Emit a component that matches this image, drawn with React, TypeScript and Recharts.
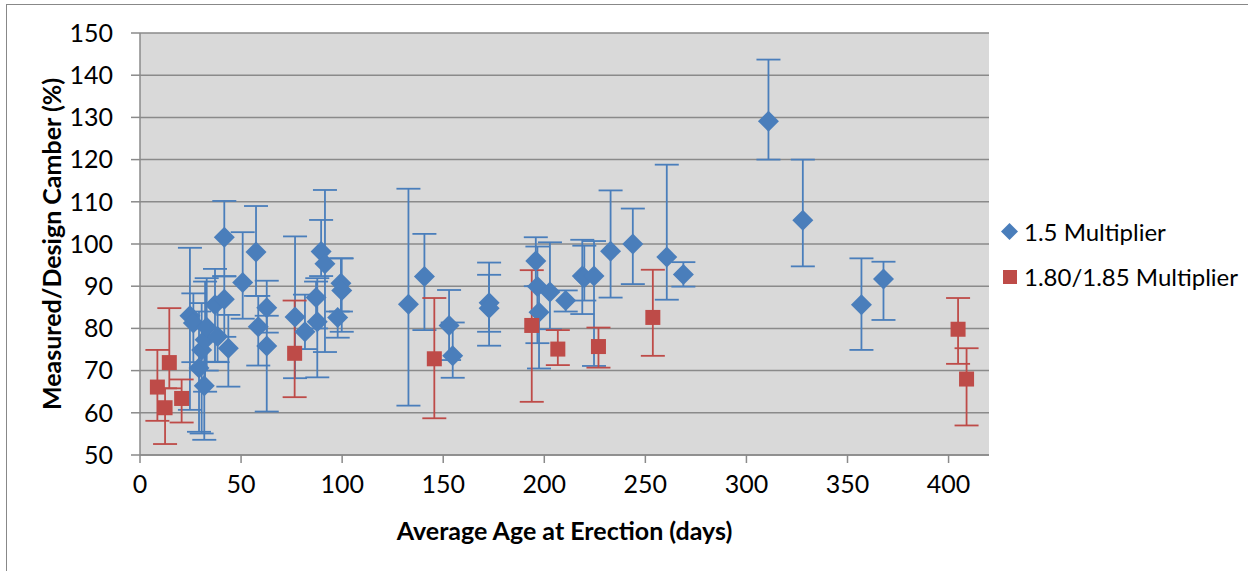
import React from 'react';
import {
  ScatterChart,
  Scatter,
  XAxis,
  YAxis,
  CartesianGrid,
  ErrorBar,
  Label,
} from 'recharts';

const BLUE = '#4a7ebb';
const RED = '#be4b48';
const GRID = '#8a8a8a';
const FONT = 'Lato, "Open Sans", sans-serif';

// 1.5 multiplier girders: age (days), camber ratio (%), error bar low / high
const blueAge = [
  24.7, 26.4, 29.2, 30.5, 31.8, 32.2, 33.0, 37.1, 38.4, 41.7, 41.7, 43.7, 50.8, 57.4, 58.5, 62.7,
  62.7, 76.7, 81.6, 87.1, 87.7, 89.6, 91.5, 99.4, 99.8, 97.8, 132.8, 140.7, 152.9, 154.7, 172.7,
  172.7, 195.8, 196.6, 197.4, 202.8, 210.6, 218.8, 219.8, 224.6, 232.8, 243.8, 260.6, 268.8,
  310.9, 327.9, 356.9, 367.8,
];
const blueCamber = [
  83.0, 81.3, 70.6, 74.9, 66.4, 77.3, 80.3, 85.6, 78.1, 101.6, 86.9, 75.3, 90.9, 98.1, 80.4, 84.9,
  75.8, 82.7, 79.2, 87.3, 81.6, 98.2, 95.3, 90.7, 89.0, 82.6, 85.7, 92.3, 80.7, 73.5, 86.1,
  84.8, 96.0, 89.9, 83.8, 88.6, 86.6, 92.4, 92.0, 92.4, 98.3, 100.0, 96.9, 92.8,
  129.1, 105.6, 85.6, 91.7,
];
const blueLow = [
  60.7, 72.0, 55.5, 55.1, 53.6, 65.0, 70.0, 72.1, 72.0, 92.3, 78.0, 66.2, 82.3, 87.7, 71.2, 79.0,
  60.3, 68.2, 75.1, 80.0, 68.4, 92.4, 74.4, 84.0, 79.2, 77.8, 61.7, 79.6, 72.5, 68.3, 79.2,
  75.9, 90.0, 76.5, 70.5, 79.8, 84.0, 83.4, 86.6, 71.1, 87.3, 90.5, 86.8, 89.9,
  120.0, 94.7, 74.9, 82.0,
];
const blueHigh = [
  99.1, 88.3, 84.0, 86.0, 80.0, 91.1, 91.9, 94.1, 86.0, 110.2, 92.4, 83.2, 102.8, 109.0, 87.7, 91.3,
  83.0, 101.8, 88.0, 91.1, 91.9, 105.7, 112.8, 96.6, 96.6, 84.0, 113.1, 102.4, 89.1, 81.4, 95.6,
  92.7, 101.6, 99.4, 90.0, 100.4, 89.0, 101.0, 99.6, 100.7, 112.7, 108.4, 118.8, 95.7,
  143.7, 120.0, 96.6, 95.8,
];

// 1.80/1.85 multiplier girders
const redAge = [8.6, 12.4, 14.5, 20.6, 76.5, 145.6, 193.8, 206.7, 226.8, 253.7, 404.7, 408.9];
const redCamber = [66.1, 61.2, 71.9, 63.4, 74.1, 72.8, 80.7, 75.1, 75.7, 82.6, 79.8, 68.0];
const redLow = [58.1, 52.6, 65.8, 57.7, 63.7, 58.7, 62.6, 71.3, 70.7, 73.5, 71.6, 57.0];
const redHigh = [74.9, 65.8, 84.8, 67.9, 86.6, 87.2, 93.8, 79.6, 80.2, 93.9, 87.2, 75.3];

const xTicks = [0, 50, 100, 150, 200, 250, 300, 350, 400];
const yTicks = [50, 60, 70, 80, 90, 100, 110, 120, 130, 140, 150];

const toRows = (age: number[], camber: number[], low: number[], high: number[]) =>
  age.map((x, i) => ({
    x,
    y: camber[i],
    err: [camber[i] - low[i], high[i] - camber[i]],
  }));

const blueData = toRows(blueAge, blueCamber, blueLow, blueHigh);
const redData = toRows(redAge, redCamber, redLow, redHigh);

const DiamondMark = (props: any) => {
  const { cx, cy } = props;
  const r = 10.5;
  return (
    <polygon
      points={`${cx},${cy - r} ${cx + r},${cy} ${cx},${cy + r} ${cx - r},${cy}`}
      fill={BLUE}
    />
  );
};

const SquareMark = (props: any) => {
  const { cx, cy } = props;
  const s = 15;
  return <rect x={cx - s / 2} y={cy - s / 2} width={s} height={s} fill={RED} />;
};

const YTitle = ({ viewBox }: any) => {
  const x = viewBox.x - 29;
  const y = viewBox.y + viewBox.height / 2;
  return (
    <text
      x={x}
      y={y}
      transform={`rotate(-90, ${x}, ${y})`}
      textAnchor="middle"
      dominantBaseline="central"
      fontFamily={FONT}
      fontWeight={700}
      fontSize={25}
      fill="#000"
    >
      Measured/Design Camber (%)
    </text>
  );
};

const XTitle = ({ viewBox }: any) => (
  <text
    x={viewBox.x + viewBox.width / 2}
    y={530}
    textAnchor="middle"
    dominantBaseline="central"
    fontFamily={FONT}
    fontWeight={700}
    fontSize={25}
    fill="#000"
  >
    Average Age at Erection (days)
  </text>
);

const tickStyle = { fill: '#000', fontSize: 25, fontFamily: FONT };

const legendRow = (top: number): React.CSSProperties => ({
  position: 'absolute',
  left: 1000,
  top,
  height: 30,
  display: 'flex',
  alignItems: 'center',
  whiteSpace: 'nowrap',
  fontSize: 24,
  color: '#000',
});

export default function App() {
  return (
    <div
      style={{
        position: 'absolute',
        left: 0,
        top: 0,
        width: 1248,
        height: 571,
        overflow: 'hidden',
        background: '#fff',
        fontFamily: FONT,
      }}
    >
      {/* chart area frame */}
      <div
        style={{
          position: 'absolute',
          left: 6,
          top: 4,
          width: 1300,
          height: 600,
          border: '1.5px solid #888',
          boxSizing: 'border-box',
        }}
      />
      <div style={{ position: 'absolute', left: 0, top: 0 }}>
        <ScatterChart
          width={1248}
          height={571}
          margin={{ top: 33, right: 259, bottom: 86, left: 80 }}
        >
          <CartesianGrid
            vertical={false}
            fill="#d9d9d9"
            stroke={GRID}
            strokeWidth={1.5}
            horizontalValues={yTicks}
          />
          <XAxis
            type="number"
            dataKey="x"
            domain={[0, 420]}
            ticks={xTicks}
            allowDataOverflow
            height={30}
            tick={tickStyle}
            tickSize={8}
            tickMargin={12}
            axisLine={{ stroke: GRID, strokeWidth: 1.5 }}
            tickLine={{ stroke: GRID, strokeWidth: 1.5 }}
          >
            <Label content={<XTitle />} />
          </XAxis>
          <YAxis
            type="number"
            dataKey="y"
            domain={[50, 150]}
            ticks={yTicks}
            allowDataOverflow
            width={60}
            tick={tickStyle}
            tickSize={9}
            tickMargin={18}
            axisLine={{ stroke: GRID, strokeWidth: 1.5 }}
            tickLine={{ stroke: GRID, strokeWidth: 1.5 }}
          >
            <Label content={<YTitle />} />
          </YAxis>
          <Scatter
            name="1.5 Multiplier"
            data={blueData}
            shape={<DiamondMark />}
            isAnimationActive={false}
          >
            <ErrorBar dataKey="err" direction="y" width={12} stroke={BLUE} strokeWidth={1.8} />
          </Scatter>
          <Scatter
            name="1.80/1.85 Multiplier"
            data={redData}
            shape={<SquareMark />}
            isAnimationActive={false}
          >
            <ErrorBar dataKey="err" direction="y" width={12} stroke={RED} strokeWidth={1.8} />
          </Scatter>
        </ScatterChart>
      </div>
      {/* legend */}
      <div style={legendRow(216)}>
        <svg width={19} height={19} style={{ marginRight: 5 }}>
          <polygon points="9.5,1 18,9.5 9.5,18 1,9.5" fill={BLUE} />
        </svg>
        <span>1.5 Multiplier</span>
      </div>
      <div style={legendRow(261)}>
        <svg width={19} height={19} style={{ marginRight: 5 }}>
          <rect x={3} y={3} width={14} height={14} fill={RED} />
        </svg>
        <span>1.80/1.85 Multiplier</span>
      </div>
    </div>
  );
}
